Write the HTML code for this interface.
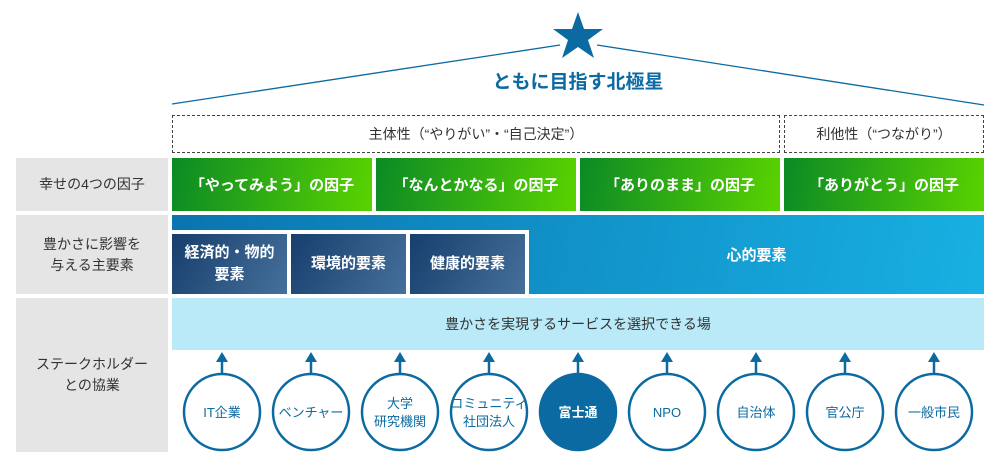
<!DOCTYPE html>
<html><head><meta charset="utf-8"><style>
body{margin:0;width:1000px;height:468px;background:#fff;position:relative;overflow:hidden;font-family:"Liberation Sans","Noto Sans CJK JP",sans-serif}
.a{position:absolute;display:flex;align-items:center;justify-content:center;text-align:center;box-sizing:border-box}
.lab{background:#e5e5e5;color:#333;font-size:14px;line-height:21px;left:16px;width:152px}
.g{background:linear-gradient(100deg,#0b8a25,#5ad300);color:#fff;font-weight:bold;font-size:15px;top:158px;height:53px;width:200px}
.d{border:1px dashed #444;color:#333;font-size:14px;top:115px;height:38px}
.n{background:linear-gradient(120deg,#173e6c,#46709c);color:#fff;font-weight:bold;font-size:15px;line-height:22px;top:234px;height:60px}
</style></head><body>
<svg width="1000" height="468" style="position:absolute;left:0;top:0">
<line x1="172" y1="104" x2="560" y2="45" stroke="#0a6aa1" stroke-width="1.3"/>
<line x1="597" y1="45" x2="984" y2="105" stroke="#0a6aa1" stroke-width="1.3"/>
<polygon points="578,12 584,29 603,29 588,40 594,58 578,47 562,58 568,40 553,29 572,29" fill="#0a6aa1"/>
</svg>
<div class="a" style="left:378px;width:400px;top:66px;height:28px;color:#0a6aa1;font-weight:bold;font-size:19px">ともに目指す北極星</div>
<div class="a d" style="left:172px;width:608px">主体性（“やりがい”・“自己決定”）</div>
<div class="a d" style="left:784px;width:200px">利他性（“つながり”）</div>
<div class="a lab" style="top:158px;height:53px">幸せの4つの因子</div>
<div class="a g" style="left:172px">「やってみよう」の因子</div>
<div class="a g" style="left:376px">「なんとかなる」の因子</div>
<div class="a g" style="left:580px">「ありのまま」の因子</div>
<div class="a g" style="left:784px">「ありがとう」の因子</div>
<div class="a lab" style="top:215px;height:79px">豊かさに影響を<br>与える主要素</div>
<div class="a" style="left:172px;width:812px;top:215px;height:79px;background:linear-gradient(100deg,#0a75b0,#18b0e2);color:#fff;font-weight:bold;font-size:15px;padding-left:357px">心的要素</div>
<div class="a n" style="left:172px;width:115px">経済的・物的<br>要素</div>
<div class="a n" style="left:291px;width:115px">環境的要素</div>
<div class="a n" style="left:410px;width:115px">健康的要素</div>
<div style="position:absolute;left:287px;top:230px;width:4px;height:64px;background:#fff"></div>
<div style="position:absolute;left:406px;top:230px;width:4px;height:64px;background:#fff"></div>
<div style="position:absolute;left:525px;top:230px;width:4px;height:64px;background:#fff"></div>
<div style="position:absolute;left:172px;top:230px;width:357px;height:4px;background:#fff"></div>
<div class="a lab" style="top:298px;height:154px">ステークホルダー<br>との協業</div>
<div class="a" style="left:172px;width:812px;top:298px;height:52px;background:#bae9f7;color:#333;font-size:14px">豊かさを実現するサービスを選択できる場</div>
<svg width="1000" height="468" style="position:absolute;left:0;top:0" font-family="Liberation Sans,Noto Sans CJK JP,sans-serif" font-size="13" text-anchor="middle">
<g fill="#0a6aa1" stroke="#0a6aa1">
<g id="ar"><line x1="222" y1="360" x2="222" y2="374" stroke-width="2.5"/><polygon points="222,352 216,362 228,362" stroke="none"/></g>
<use href="#ar" x="89"/><use href="#ar" x="178"/><use href="#ar" x="267"/><use href="#ar" x="356"/><use href="#ar" x="445"/><use href="#ar" x="534"/><use href="#ar" x="623"/><use href="#ar" x="712"/>
</g>
<g fill="#fff" stroke="#0a6aa1" stroke-width="2.5">
<circle cx="222" cy="412" r="38"/><circle cx="311" cy="412" r="38"/><circle cx="400" cy="412" r="38"/><circle cx="489" cy="412" r="38"/>
<circle cx="578" cy="412" r="38" fill="#0a6aa1"/>
<circle cx="667" cy="412" r="38"/><circle cx="756" cy="412" r="38"/><circle cx="845" cy="412" r="38"/><circle cx="934" cy="412" r="38"/>
</g>
<g fill="#0a6aa1">
<text x="222" y="417">IT企業</text><text x="311" y="417">ベンチャー</text>
<text x="400" y="408">大学</text><text x="400" y="426">研究機関</text>
<text x="489" y="408">コミュニティ</text><text x="489" y="426">社団法人</text>
<text x="578" y="417" fill="#fff" font-weight="bold">富士通</text>
<text x="667" y="417">NPO</text><text x="756" y="417">自治体</text><text x="845" y="417">官公庁</text><text x="934" y="417">一般市民</text>
</g>
</svg>
</body></html>
